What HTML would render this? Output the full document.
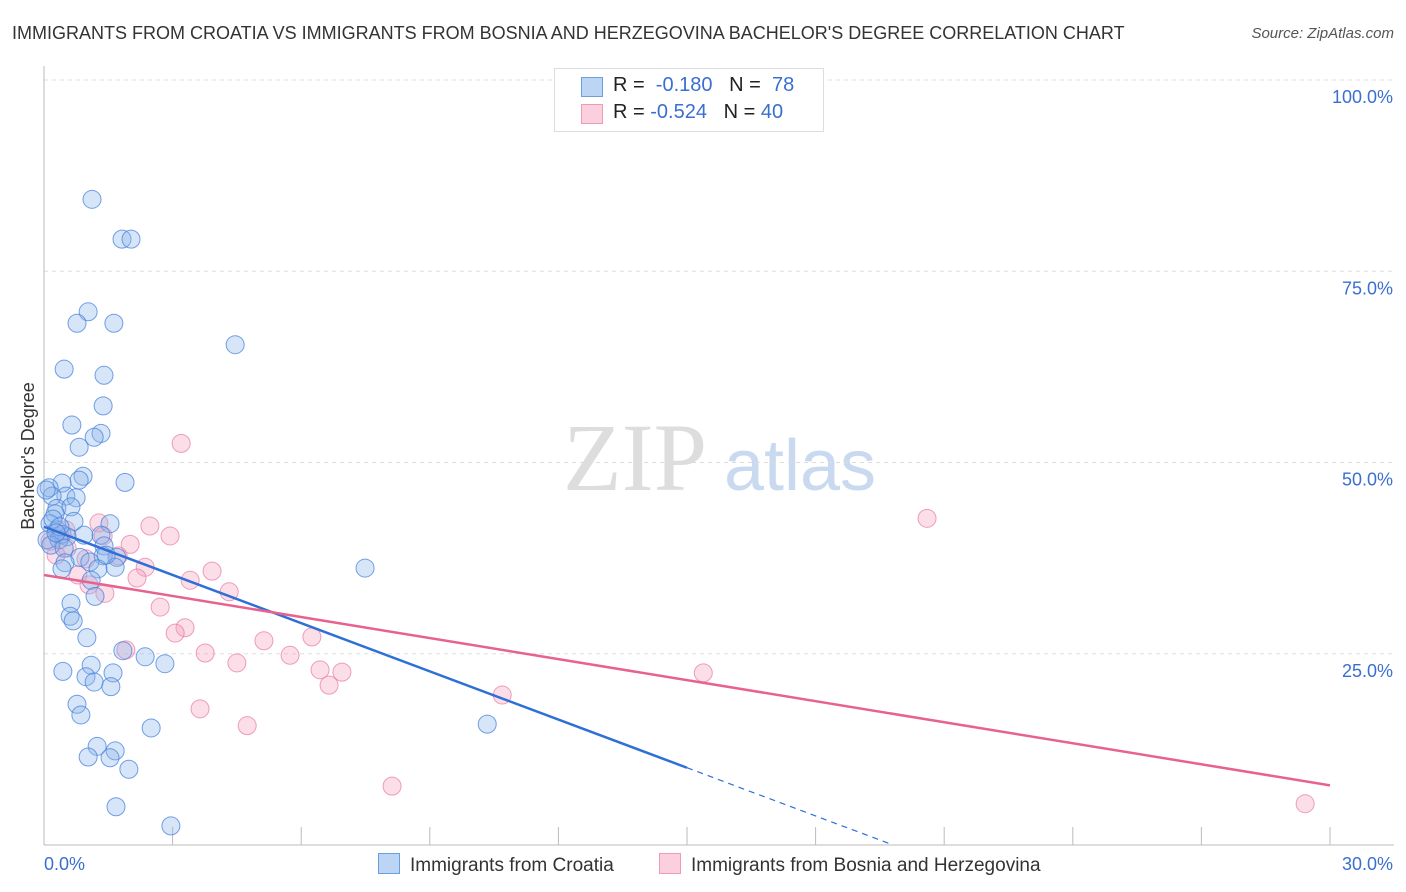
<!DOCTYPE html>
<html><head><meta charset="utf-8">
<style>
body{margin:0;background:#fff;font-family:"Liberation Sans",sans-serif;}
#wrap{position:relative;width:1406px;height:892px;overflow:hidden;}
.t{position:absolute;white-space:nowrap;}
</style></head>
<body>
<div id="wrap">
<div class="t" style="left:12px;top:23px;font-size:18px;color:#333;">IMMIGRANTS FROM CROATIA VS IMMIGRANTS FROM BOSNIA AND HERZEGOVINA BACHELOR'S DEGREE CORRELATION CHART</div>
<div class="t" style="right:12px;top:25px;font-size:15px;color:#555;font-style:italic;">Source: ZipAtlas.com</div>
<svg id="svg" width="1406" height="892" style="position:absolute;left:0;top:0"></svg>
</div>
<script>
const xTickLabels=["0.0%","30.0%"];
const yTickValues=[25,50,75,100];
const yTickLabels=["25.0%","50.0%","75.0%","100.0%"];
const croatiaX=[1.12,1.82,2.03,1.03,0.77,1.63,4.46,0.47,1.40,1.38,0.65,1.33,1.17,0.82,0.91,0.82,1.89,0.42,0.12,0.51,0.19,0.75,0.30,0.63,0.26,0.70,1.54,0.14,0.30,0.42,0.54,1.33,0.07,0.35,0.16,1.40,0.47,0.84,1.70,1.38,0.49,1.07,0.42,1.26,1.66,7.49,1.10,1.19,0.63,0.61,0.68,1.00,1.84,2.36,2.82,1.10,0.44,1.61,0.98,1.17,1.56,0.77,0.86,10.34,2.50,1.24,1.66,1.03,1.54,1.98,1.68,2.96,0.05,0.21,0.37,0.93,0.28,1.45];
const croatiaY=[84.4,79.2,79.2,69.7,68.2,68.2,65.4,62.2,61.4,57.4,54.9,53.8,53.3,52.0,48.2,47.7,47.4,47.3,46.7,45.6,45.6,45.4,44.0,44.2,43.3,42.3,42.0,42.0,41.2,40.6,40.3,40.5,39.9,39.9,39.2,39.1,38.8,37.6,37.6,37.8,36.9,37.0,36.1,36.1,36.3,36.2,34.6,32.5,31.6,29.9,29.3,27.1,25.4,24.6,23.7,23.5,22.7,22.5,22.0,21.3,20.7,18.4,17.0,15.8,15.3,12.9,12.3,11.5,11.4,9.9,5.0,2.5,46.4,42.6,41.6,40.5,40.8,37.9];
const bosniaX=[3.20,20.60,1.28,2.47,2.94,1.38,2.01,0.14,0.54,1.73,0.98,2.36,3.92,0.79,2.17,3.41,1.05,4.32,1.42,2.71,3.29,3.06,6.25,5.13,1.91,3.76,5.74,4.50,6.44,6.95,15.38,6.65,10.69,3.64,4.74,8.12,29.42,0.37,0.28,0.51];
const bosniaY=[52.5,42.7,42.1,41.7,40.4,40.4,39.3,39.7,38.8,37.8,37.4,36.3,35.8,35.3,34.9,34.6,34.0,33.1,32.9,31.1,28.4,27.7,27.2,26.7,25.5,25.1,24.8,23.8,22.9,22.6,22.5,20.9,19.6,17.8,15.6,7.7,5.4,40.5,37.9,41.2];
const croatiaTrend=[41.6,10.1]; // y at x=0 and x=15
const croatiaTrendEnd=15.0, croatiaDashEnd=19.8;
const bosniaTrend=[35.3,7.8]; // y at x=0 and x=30
const NS="http://www.w3.org/2000/svg";
const svg=document.getElementById('svg');
const X0=44,X1=1330,Y0=845,Y100=80;
const sx=v=>X0+(v/30)*(X1-X0);
const sy=v=>Y0-(v/100)*(Y0-Y100);
function mk(t,a){const e=document.createElementNS(NS,t);for(const k in a)e.setAttribute(k,a[k]);svg.appendChild(e);return e;}
// watermark
let wm=mk('text',{x:635,y:490,'font-size':96,'font-family':'Liberation Serif,serif','text-anchor':'middle',fill:'#ddd'});wm.textContent='ZIP';


let wm2=mk('text',{x:800,y:490,'font-size':72,'font-family':'Liberation Sans,sans-serif','text-anchor':'middle',fill:'#c9daf0'});wm2.textContent='atlas';


// gridlines + y labels
yTickValues.forEach((v,i)=>{
 const g=mk('line',{x1:X0,x2:1394,y1:sy(v),y2:sy(v),stroke:'#ddd','stroke-dasharray':'4,4'});
 
 
 const t=mk('text',{x:1393,y:sy(v)+23,'font-size':18,fill:'#3a6fd0','text-anchor':'end'});
 t.textContent=yTickLabels[i];
 
 
});
// axes
let ya=mk('line',{x1:X0,x2:X0,y1:66,y2:Y0,stroke:'#bbb'});


let xa=mk('line',{x1:X0,x2:1394,y1:Y0,y2:Y0,stroke:'#bbb'});


for(let i=0;i<=10;i++){const tk=mk('line',{x1:sx(i*3),x2:sx(i*3),y1:Y0,y2:Y0-18,stroke:'#bbb'});
 
 }
let xl0=mk('text',{x:44,y:870,'font-size':18,fill:'#3a6fd0'});xl0.textContent=xTickLabels[0];


let xl1=mk('text',{x:1393,y:870,'font-size':18,fill:'#3a6fd0','text-anchor':'end'});xl1.textContent=xTickLabels[1];


let yt=mk('text',{x:34,y:456,'font-size':18,fill:'#333','text-anchor':'middle',transform:'rotate(-90 34 456)'});yt.textContent="Bachelor's Degree";


// points
bosniaX.forEach((x,i)=>{const c=mk('circle',{cx:sx(x),cy:sy(bosniaY[i]),r:9,fill:'rgba(244,160,190,0.35)',stroke:'rgba(232,120,160,0.7)','stroke-width':1});
 
 });
croatiaX.forEach((x,i)=>{const c=mk('circle',{cx:sx(x),cy:sy(croatiaY[i]),r:9,fill:'rgba(140,180,235,0.35)',stroke:'rgba(70,130,220,0.75)','stroke-width':1});
 
 });
// trend lines
const cy=x=>croatiaTrend[0]+(croatiaTrend[1]-croatiaTrend[0])*x/15;
let bl=mk('line',{x1:sx(0),y1:sy(cy(0)),x2:sx(croatiaTrendEnd),y2:sy(cy(croatiaTrendEnd)),stroke:'#2f6fd6','stroke-width':2.5});


let bd=mk('line',{x1:sx(croatiaTrendEnd),y1:sy(cy(croatiaTrendEnd)),x2:sx(croatiaDashEnd),y2:sy(cy(croatiaDashEnd)),stroke:'#2f6fd6','stroke-width':1.2,'stroke-dasharray':'6,5'});


let pl=mk('line',{x1:sx(0),y1:sy(bosniaTrend[0]),x2:sx(30),y2:sy(bosniaTrend[1]),stroke:'#e8628f','stroke-width':2.5});


</script>
<div class="t" style="left:554px;top:68px;width:268px;height:62px;border:1px solid #ddd;background:#fff;font-size:20px;">
 <div style="position:absolute;left:26px;top:8px;width:20px;height:18px;background:#bcd5f5;border:1px solid #6a9ee0"></div>
 <div style="position:absolute;left:58px;top:5px;color:#222">R = <span style="color:#3a6fd0">&nbsp;-0.180</span>&nbsp;&nbsp;&nbsp;N = <span style="color:#3a6fd0">&nbsp;78</span></div>
 <div style="position:absolute;left:26px;top:35px;width:20px;height:18px;background:#fbcfdd;border:1px solid #ef9ab7"></div>
 <div style="position:absolute;left:58px;top:32px;color:#222">R = <span style="color:#3a6fd0">-0.524</span>&nbsp;&nbsp;&nbsp;N = <span style="color:#3a6fd0">40</span></div>
</div>
<div class="t" style="left:378px;top:853px;font-size:19px;color:#333;">
 <span style="display:inline-block;width:20px;height:19px;background:#bcd5f5;border:1px solid #6a9ee0;vertical-align:-3px;margin-right:10px"></span>Immigrants from Croatia</div>
<div class="t" style="left:659px;top:853px;font-size:19px;color:#333;">
 <span style="display:inline-block;width:20px;height:19px;background:#fbcfdd;border:1px solid #ef9ab7;vertical-align:-3px;margin-right:10px"></span>Immigrants from Bosnia and Herzegovina</div>
</body></html>
